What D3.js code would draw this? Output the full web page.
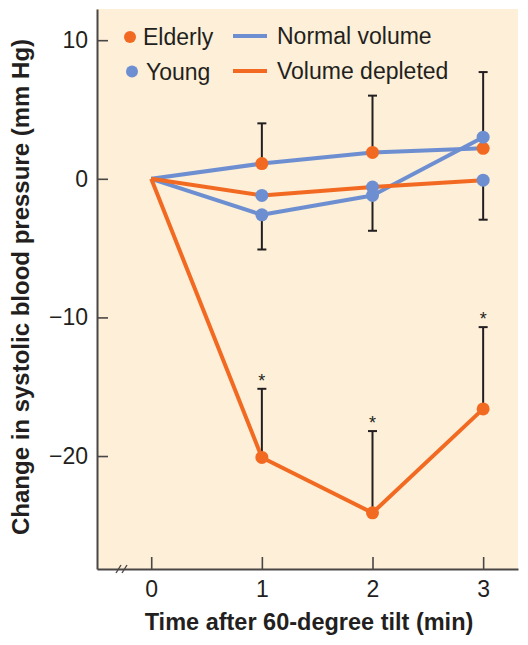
<!DOCTYPE html>
<html>
<head>
<meta charset="utf-8">
<script src="https://cdn.jsdelivr.net/npm/d3@7"></script>
<style>
  html, body { margin: 0; padding: 0; background: #fff; }
  svg { display: block; font-family: "Liberation Sans", Arial, Helvetica, sans-serif; }
</style>
</head>
<body>
<svg id="chart" width="528" height="645"></svg>
<script>
// ===== DATA =====
const times = [0, 1, 2, 3];
const xTicks = [0, 1, 2, 3];
const yTicks = [10, 0, -10, -20];

// mean change in systolic pressure (mm Hg)
const elderlyNormal = [0, 1.1, 1.9, 2.2];
const youngNormal = [0, -2.6, -1.2, 3.0];
const youngDepleted = [0, -1.2, -0.6, -0.1];
const elderlyDepleted = [0, -20.1, -24.1, -16.6];

// error bar ends (null = no bar drawn)
const elderlyNormalHi = [null, 4.0, 6.0, null];
const youngNormalHi = [null, null, null, 7.7];
const youngNormalLo = [null, -5.1, -3.75, null];
const youngDepletedLo = [null, null, null, -2.95];
const elderlyDepletedHi = [null, -15.15, -18.2, -10.7];
const significant = [false, true, true, true];

const legendGroups = ['Elderly', 'Young'];
const legendConditions = ['Normal volume', 'Volume depleted'];

// ===== STYLE =====
const ORANGE = '#f26a22';
const BLUE = '#6d8fd1';
const INK = '#231f20';
const AXIS = '#4a4646';
const BG = '#fdefd8';

const svg = d3.select('#chart');
const frame = { left: 97, right: 518, top: 9, bottom: 569 };

const x = d3.scaleLinear().domain([-0.49, 3.315]).range([frame.left, frame.right]);
const y = d3.scaleLinear().domain([-28.15, 12.25]).range([frame.bottom, frame.top]);

svg.append('rect')
    .attr('x', frame.left)
    .attr('y', frame.top)
    .attr('width', frame.right - frame.left)
    .attr('height', frame.bottom - frame.top)
    .attr('fill', BG);

// ===== AXES =====
const yAxisG = svg.append('g')
    .attr('transform', `translate(${frame.left},0)`)
    .call(d3.axisLeft(y).tickValues(yTicks).tickSizeInner(-11).tickSizeOuter(0).tickPadding(9));

const xAxisG = svg.append('g')
    .attr('transform', `translate(0,${frame.bottom})`)
    .call(d3.axisBottom(x).tickValues(xTicks).tickFormat(d3.format('d'))
        .tickSizeInner(-12).tickSizeOuter(0).tickPadding(12));

[xAxisG, yAxisG].forEach(g => {
    g.select('.domain').attr('stroke', AXIS).attr('stroke-width', 2);
    g.selectAll('.tick line').attr('stroke', AXIS).attr('stroke-width', 1.6);
    g.selectAll('.tick text')
        .attr('fill', INK)
        .style('font-size', '23px')
        .style('font-family', '"Liberation Sans", Arial, sans-serif');
});

// axis break mark
const brk = svg.append('g').attr('stroke', AXIS).attr('stroke-width', 1.4);
[116, 122].forEach(bx => {
    brk.append('line')
        .attr('x1', bx).attr('y1', frame.bottom + 4)
        .attr('x2', bx + 5).attr('y2', frame.bottom - 4);
});

svg.append('text')
    .attr('x', 309)
    .attr('y', 630)
    .attr('text-anchor', 'middle')
    .attr('fill', INK)
    .style('font-size', '23.5px')
    .style('font-weight', 'bold')
    .text('Time after 60-degree tilt (min)');

svg.append('text')
    .attr('transform', 'translate(29,287) rotate(-90)')
    .attr('text-anchor', 'middle')
    .attr('fill', INK)
    .style('font-size', '24px')
    .style('font-weight', 'bold')
    .text('Change in systolic blood pressure (mm Hg)');

// ===== ERROR BARS =====
const bars = [
    { mean: elderlyNormal, end: elderlyNormalHi },
    { mean: youngNormal, end: youngNormalHi },
    { mean: youngNormal, end: youngNormalLo },
    { mean: youngDepleted, end: youngDepletedLo },
    { mean: elderlyDepleted, end: elderlyDepletedHi }
].flatMap(s => times
    .map((t, i) => ({ t, from: s.mean[i], to: s.end[i] }))
    .filter(d => d.to !== null));

const barG = svg.append('g').attr('stroke', INK).attr('stroke-width', 2);
barG.selectAll('.bar-stem')
    .data(bars)
    .join('line')
    .attr('x1', d => x(d.t)).attr('x2', d => x(d.t))
    .attr('y1', d => y(d.from)).attr('y2', d => y(d.to));
barG.selectAll('.bar-cap')
    .data(bars)
    .join('line')
    .attr('x1', d => x(d.t) - 4.5).attr('x2', d => x(d.t) + 4.5)
    .attr('y1', d => y(d.to)).attr('y2', d => y(d.to));

svg.selectAll('.star')
    .data(times.filter((t, i) => significant[i]))
    .join('text')
    .attr('x', t => x(t))
    .attr('y', t => y(elderlyDepletedHi[times.indexOf(t)]) - 2)
    .attr('text-anchor', 'middle')
    .attr('fill', INK)
    .style('font-size', '18px')
    .text('*');

// ===== LINES =====
const line = d3.line().x((d, i) => x(times[i])).y(d => y(d));
const series = [
    { values: elderlyNormal, line: BLUE, dot: ORANGE },
    { values: youngNormal, line: BLUE, dot: BLUE },
    { values: youngDepleted, line: ORANGE, dot: BLUE },
    { values: elderlyDepleted, line: ORANGE, dot: ORANGE }
];

svg.selectAll('.series-line')
    .data(series)
    .join('path')
    .attr('fill', 'none')
    .attr('stroke', d => d.line)
    .attr('stroke-width', 4)
    .attr('stroke-linejoin', 'round')
    .attr('d', d => line(d.values));

series.forEach(s => {
    svg.append('g').selectAll('circle')
        .data(s.values.slice(1))
        .join('circle')
        .attr('cx', (d, i) => x(times[i + 1]))
        .attr('cy', d => y(d))
        .attr('r', 6.5)
        .attr('fill', s.dot);
});

// ===== LEGEND =====
const legend = svg.append('g').style('font-size', '23px').attr('fill', INK);
legendGroups.forEach((name, i) => {
    const cy = 37 + i * 34.5;
    legend.append('circle')
        .attr('cx', 130 + i * 2).attr('cy', cy).attr('r', 6)
        .attr('fill', i === 0 ? ORANGE : BLUE);
    legend.append('text')
        .attr('x', 143 + i * 3).attr('y', cy + 8)
        .text(name);
});
legendConditions.forEach((name, i) => {
    const cy = 36 + i * 35;
    legend.append('line')
        .attr('x1', 233).attr('x2', 267)
        .attr('y1', cy).attr('y2', cy)
        .attr('stroke', i === 0 ? BLUE : ORANGE)
        .attr('stroke-width', 4);
    legend.append('text')
        .attr('x', 277).attr('y', cy + 8)
        .text(name);
});
</script>
</body>
</html>
